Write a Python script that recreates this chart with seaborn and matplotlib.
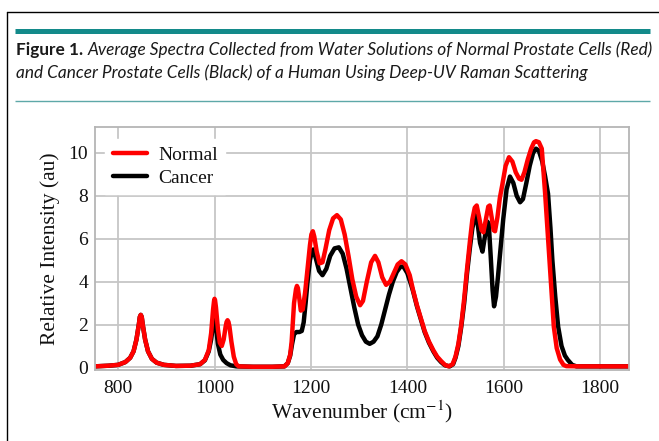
import numpy as np
import pandas as pd
import matplotlib
matplotlib.use("Agg")
import matplotlib.pyplot as plt
from matplotlib.lines import Line2D
import seaborn as sns

# ====================== 数据 ===================================

normal_wn = [752, 780, 800, 815, 825, 832, 838, 843, 845, 847, 849, 851, 856, 862, 870, 880, 895, 920, 950, 970,
             980, 988, 993, 997, 999, 1000, 1001, 1003, 1007, 1011, 1015, 1019, 1023, 1025, 1027, 1029, 1031,
             1035, 1040, 1045, 1050, 1080, 1120, 1145, 1152, 1157, 1160, 1165, 1169, 1171, 1173, 1176, 1179,
             1183, 1188, 1193, 1198, 1201, 1204, 1207, 1212, 1218, 1224, 1230, 1238, 1246, 1254, 1262,
             1270, 1278, 1286, 1294, 1302, 1308, 1316, 1325, 1333, 1340, 1348, 1356, 1364, 1372, 1380,
             1388, 1396, 1405, 1412, 1420, 1428, 1436, 1445, 1454, 1462, 1470, 1478, 1486, 1494, 1500,
             1506, 1512, 1518, 1524, 1530, 1535, 1540, 1544, 1549, 1554, 1558, 1563, 1568, 1571, 1575,
             1579, 1582, 1587, 1592, 1597, 1604, 1611, 1618, 1625, 1632, 1637, 1643, 1650, 1657, 1663,
             1667, 1673, 1679, 1686, 1690, 1695, 1700, 1704, 1710, 1717, 1724, 1730, 1760, 1860]
normal_int = [0.05, 0.08, 0.12, 0.25, 0.45, 0.75, 1.3, 2.0, 2.35, 2.45, 2.35, 2.0, 1.3, 0.75, 0.4, 0.22, 0.12, 0.07, 0.08, 0.15,
              0.35, 0.8, 1.6, 2.7, 3.1, 3.2, 3.15, 2.8, 1.8, 1.15, 1.0, 1.3, 1.9, 2.12, 2.2, 2.12, 1.9,
              1.2, 0.5, 0.15, 0.05, 0.03, 0.03, 0.05, 0.2, 0.6, 1.2, 3.0, 3.65, 3.8, 3.7, 3.2, 2.65,
              2.7, 3.5, 4.6, 5.7, 6.2, 6.35, 6.1, 5.4, 4.85, 4.9, 5.5, 6.4, 6.95, 7.1, 6.9,
              6.2, 5.2, 4.1, 3.3, 2.9, 3.1, 4.0, 4.9, 5.2, 4.9, 4.2, 3.85, 4.0, 4.4, 4.8,
              4.95, 4.8, 4.3, 3.6, 2.9, 2.3, 1.7, 1.2, 0.8, 0.5, 0.3, 0.12, 0.05, 0.15, 0.5,
              1.1, 2.0, 3.2, 4.6, 5.9, 6.9, 7.45, 7.55, 7.0, 6.4, 6.3, 6.9, 7.5, 7.55, 7.0,
              6.4, 6.35, 7.0, 7.9, 8.5, 9.4, 9.8, 9.6, 9.1, 8.8, 8.75, 9.1, 9.7, 10.2, 10.5,
              10.55, 10.5, 10.2, 8.1, 6.7, 5.0, 3.3, 1.9, 0.9, 0.37, 0.12, 0.06, 0.05, 0.05]

cancer_wn = [752, 780, 800, 815, 825, 832, 838, 843, 845, 847, 849, 851, 856, 862, 870, 880, 895, 920, 950, 970,
             980, 988, 993, 997, 999, 1000, 1001, 1003, 1007, 1012, 1018, 1025, 1033, 1045, 1080, 1120, 1145,
             1152, 1157, 1161, 1165, 1170, 1176, 1181, 1185, 1189, 1193, 1198, 1202, 1205, 1210, 1217,
             1224, 1232, 1240, 1249, 1258, 1266, 1274, 1282, 1290, 1298, 1306, 1314, 1322, 1330, 1338,
             1346, 1354, 1362, 1370, 1378, 1386, 1392, 1400, 1408, 1412, 1420, 1428, 1436, 1445, 1454,
             1462, 1470, 1478, 1488, 1495, 1500, 1506, 1512, 1518, 1524, 1530, 1535, 1541, 1546, 1551,
             1556, 1561, 1566, 1569, 1573, 1577, 1580, 1584, 1588, 1592, 1599, 1606, 1613, 1620, 1627,
             1634, 1640, 1647, 1654, 1661, 1667, 1673, 1680, 1686, 1692, 1697, 1701, 1707, 1713, 1720,
             1727, 1733, 1742, 1751, 1860]
cancer_int = [0.05, 0.08, 0.12, 0.25, 0.45, 0.75, 1.3, 2.0, 2.35, 2.45, 2.35, 2.0, 1.3, 0.75, 0.4, 0.22, 0.12, 0.07, 0.08, 0.15,
              0.33, 0.75, 1.3, 2.0, 2.28, 2.35, 2.3, 1.9, 1.1, 0.6, 0.35, 0.2, 0.1, 0.05, 0.03, 0.03, 0.05,
              0.2, 0.55, 1.1, 1.55, 1.65, 1.65, 1.7, 2.1, 3.0, 4.0, 5.0, 5.4, 5.5, 5.1, 4.5,
              4.3, 4.6, 5.2, 5.55, 5.6, 5.3, 4.6, 3.7, 2.8, 2.0, 1.5, 1.2, 1.1, 1.2, 1.45,
              2.0, 2.7, 3.4, 4.0, 4.45, 4.7, 4.7, 4.4, 3.85, 3.55, 2.85, 2.25, 1.65, 1.15, 0.75,
              0.45, 0.25, 0.1, 0.05, 0.15, 0.45, 1.0, 1.9, 3.0, 4.4, 5.6, 6.5, 7.1, 6.7, 5.8,
              5.4, 6.1, 6.8, 6.7, 5.2, 3.6, 2.85, 3.3, 4.2, 5.2, 6.9, 8.3, 8.9, 8.6, 8.0,
              7.7, 7.85, 8.6, 9.4, 10.0, 10.2, 10.1, 9.6, 8.9, 8.1, 6.5, 5.0, 3.3, 1.9, 1.0,
              0.55, 0.35, 0.12, 0.05, 0.05]

series_names = ["Normal", "Cancer"]
series_colors = {"Normal": "#ff0000", "Cancer": "#000000"}
x_ticks = [800, 1000, 1200, 1400, 1600, 1800]
y_ticks = [0, 2, 4, 6, 8, 10]

title_bold = "Figure 1."
title_line1 = "Average Spectra Collected from Water Solutions of Normal Prostate Cells (Red)"
title_line2 = "and Cancer Prostate Cells (Black) of a Human Using Deep-UV Raman Scattering"

df = pd.concat([
    pd.DataFrame({"wn": normal_wn, "val": normal_int, "sample": "Normal"}),
    pd.DataFrame({"wn": cancer_wn, "val": cancer_int, "sample": "Cancer"}),
], ignore_index=True)

# ====================== 画图 ===========================

sns.set_theme(style="whitegrid")
plt.rcParams["font.family"] = ["Liberation Serif", "DejaVu Serif"]
plt.rcParams["mathtext.fontset"] = "stix"

W, H = 659, 441
fig = plt.figure(figsize=(W / 100, H / 100), dpi=100)
fig.patch.set_facecolor("white")


def fx(px):
    return px / W


def fy(py):
    return 1 - py / H


# 外框 + 标题装饰线
fig.add_artist(Line2D([fx(7), fx(7)], [fy(12), fy(441)], color="black", lw=1.0))
fig.add_artist(Line2D([fx(7), fx(659)], [fy(12), fy(12)], color="black", lw=1.0))
fig.add_artist(Line2D([fx(15), fx(650)], [fy(30.8), fy(30.8)], color="#138a8a", lw=3.6,
                      solid_capstyle="butt"))
fig.add_artist(Line2D([fx(15), fx(650)], [fy(100.5), fy(100.5)], color="#5ea8a8", lw=1.0,
                      solid_capstyle="butt"))

# 标题: 粗体 + 斜体
title_font = ["Lato", "DejaVu Sans"]
title_size = 12.4
t0 = fig.text(fx(16), fy(55), title_bold, fontsize=title_size, fontweight="bold",
              family=title_font, color="#1a1a1a", va="baseline")
fig.canvas.draw()
bb = t0.get_window_extent()
fig.text(fx(bb.x1 + 4), fy(55), title_line1, fontsize=title_size, style="italic",
         family=title_font, color="#1a1a1a", va="baseline")
fig.text(fx(16), fy(78), title_line2, fontsize=title_size, style="italic",
         family=title_font, color="#1a1a1a", va="baseline")

# 主图
ax = fig.add_axes([fx(95), fy(370), fx(629 - 95), (370 - 127) / H])
sns.lineplot(data=df, x="wn", y="val", hue="sample", hue_order=["Cancer", "Normal"],
             palette=series_colors, linewidth=3.2, ax=ax, legend=False,
             estimator=None, sort=False)

ax.set_xlim(752, 1860)
ax.set_ylim(-0.12, 11.21)
ax.set_xticks(x_ticks)
ax.set_yticks(y_ticks)
ax.grid(True, color="#c6c6c6", linewidth=1.3)
for sp in ax.spines.values():
    sp.set_color("#b5b5b5")
    sp.set_linewidth(1.3)
ax.tick_params(axis="both", length=0, labelsize=14, labelcolor="#111111")
ax.tick_params(axis="x", pad=7)
ax.tick_params(axis="y", pad=5)
ax.set_xlabel("Wavenumber (cm$^{-1}$)", fontsize=15.5, color="#111111", labelpad=1)
ax.set_ylabel("Relative Intensity (au)", fontsize=15.5, color="#111111", labelpad=6)

handles = [Line2D([], [], color=series_colors[n], lw=3.2) for n in series_names]
leg = ax.legend(handles, series_names, loc="upper left", bbox_to_anchor=(0.019, 0.951),
                borderaxespad=0, frameon=True, fontsize=14, handlelength=1.75,
                handletextpad=0.57, labelspacing=0.24, facecolor="white", edgecolor="white",
                framealpha=1.0, fancybox=False)
for txt in leg.get_texts():
    txt.set_color("#111111")

fig.savefig("out.png", dpi=100)
plt.close()
